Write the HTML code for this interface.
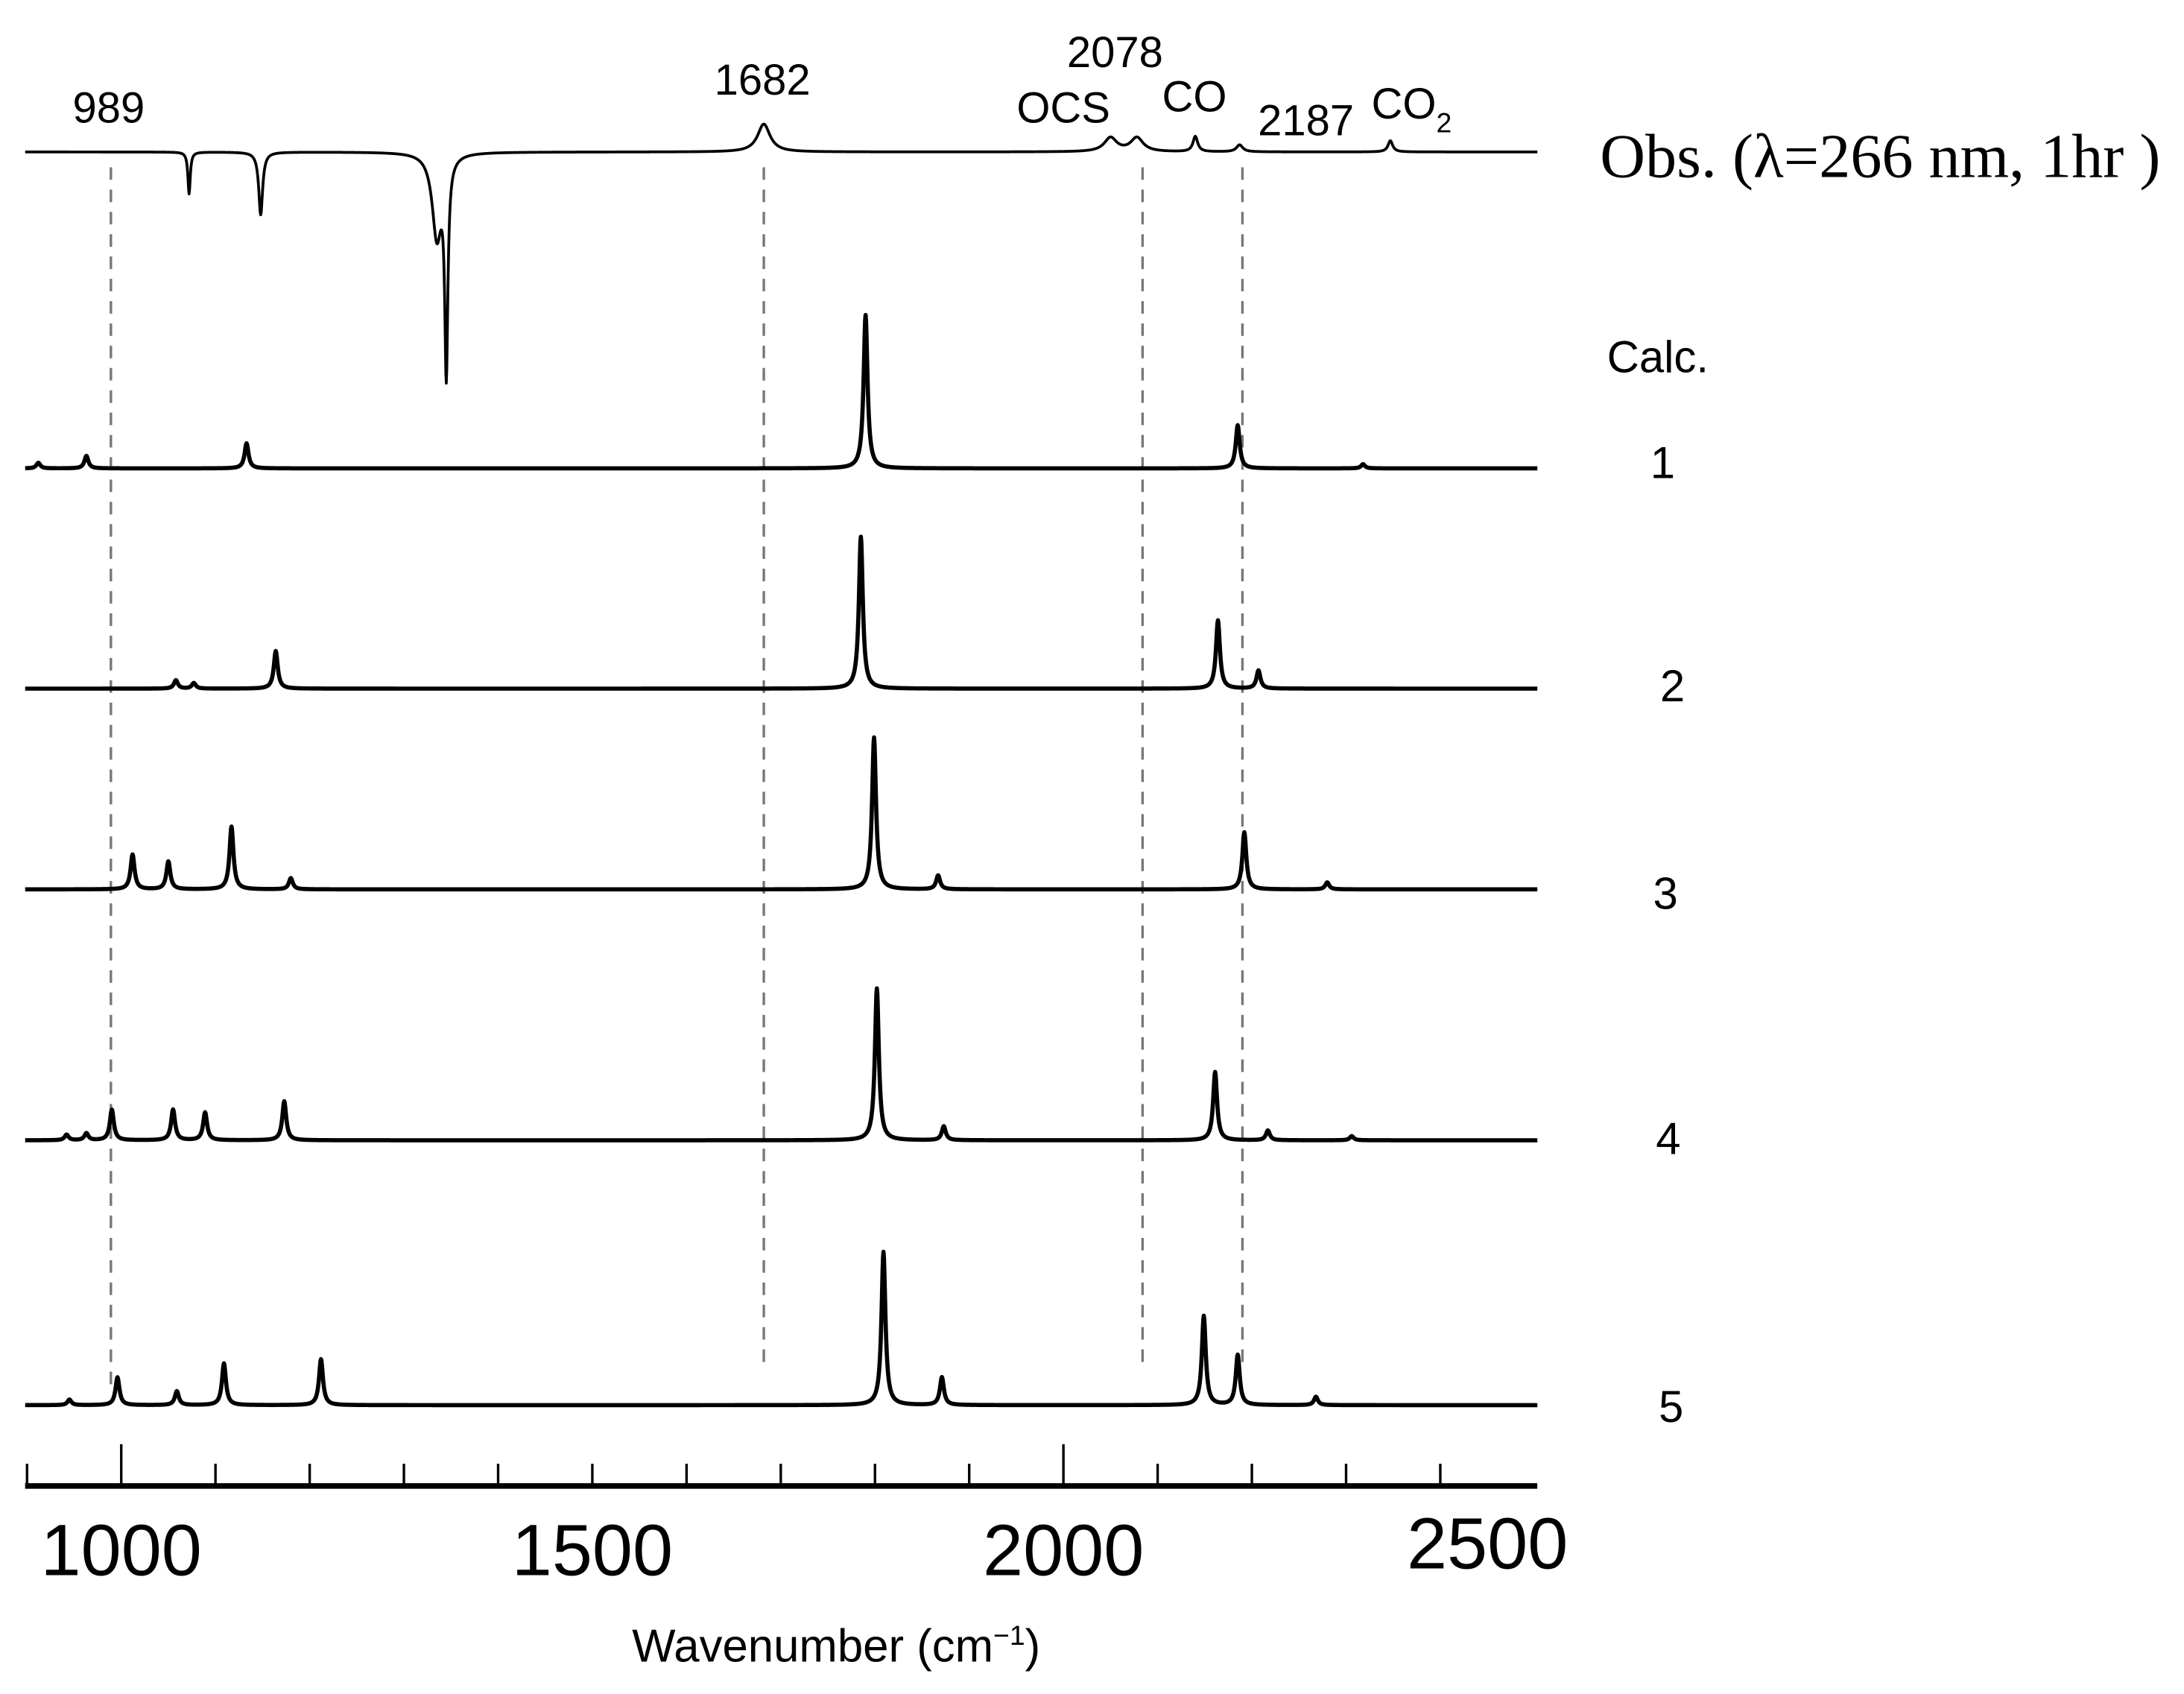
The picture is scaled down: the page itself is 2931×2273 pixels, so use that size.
<!DOCTYPE html>
<html><head><meta charset="utf-8"><style>html,body{margin:0;padding:0;background:#fff}svg{display:block}</style></head>
<body>
<svg width="2931" height="2273" viewBox="0 0 1567 1215.2" preserveAspectRatio="none" xmlns="http://www.w3.org/2000/svg">
<g id="dashes"></g>
<g id="traces"></g>
<g id="axis"></g>
<g font-family="Liberation Sans, sans-serif" fill="#000">
<text x="78" y="88" font-size="31" text-anchor="middle">989</text>
<text x="547" y="68" font-size="31" text-anchor="middle">1682</text>
<text x="800" y="48" font-size="31" text-anchor="middle">2078</text>
<text x="763" y="88" font-size="31" text-anchor="middle">OCS</text>
<text x="857" y="80" font-size="31" text-anchor="middle">CO</text>
<text x="937" y="97" font-size="31" text-anchor="middle">2187</text>
<text x="984" y="85" font-size="31">CO<tspan font-size="20" dy="10">2</tspan></text>
<text x="1148" y="127" font-size="45" font-family="Liberation Serif, serif">Obs. (λ=266 nm, 1hr )</text>
<text x="1153" y="267" font-size="32">Calc.</text>
<text x="1193" y="343" font-size="32" text-anchor="middle">1</text>
<text x="1200" y="503" font-size="32" text-anchor="middle">2</text>
<text x="1195" y="652" font-size="32" text-anchor="middle">3</text>
<text x="1197" y="828" font-size="32" text-anchor="middle">4</text>
<text x="1199" y="1020" font-size="32" text-anchor="middle">5</text>
<text x="600" y="1192" font-size="33" text-anchor="middle">Wavenumber (cm<tspan font-size="20" dy="-12">−1</tspan><tspan dy="12">)</tspan></text>
</g>
</svg>
<script>
const calc1Pos=[912,963,1133,1790,2185,2318];
const calc1Amp=[4,9,18,110,31,3];
const calc2Pos=[1058,1077,1164,1785,2164,2207];
const calc2Amp=[6,4,27,109,49,13];
const calc3Pos=[1012,1050,1117,1180,1799,1867,2192,2280];
const calc3Amp=[25,20,45,8,109,10,41,5];
const calc4Pos=[942,963,990,1055,1089,1173,1802,1873,2161,2217,2306];
const calc4Amp=[4,5,22,22,20,28,109,10,49,7,3];
const calc5Pos=[945,996,1059,1109,1212,1809,1871,2149,2185,2268];
const calc5Amp=[4,20,10,30,33,110,20,64,36,6];
const obsPos=[1072,1148,1335,1345,1682,2050,2078,2140,2187,2347];
const obsAmp=[-30,-45,-60,-150,20,10,10,11,5,8];
const obsWid=[1.5,2.5,6,2,8,8,8,3,4,3];
const baselines=[336,494,638,818,1008];
const dashW=[989,1682,2084,2190];
const dashEnd=[1000,980,980,980];
const majorTicks=[1000,1500,2000,2500];
const wMin=898,wMax=2503;
function X(w){return 87+(w-1000)*0.676;}
const NS='http://www.w3.org/2000/svg';
function trace(pos,amp,wid,base,name,sw){
  let d='';
  for(let w=wMin;w<=wMax;w+=0.5){
    let y=0;
    for(let i=0;i<pos.length;i++){const g=wid[i];const t=(w-pos[i])/g;y+=amp[i]/(1+t*t);}
    d+=(d?'L':'M')+X(w).toFixed(2)+','+(base-y).toFixed(2);
  }
  const p=document.createElementNS(NS,'path');
  p.setAttribute('d',d);p.setAttribute('fill','none');p.setAttribute('stroke','#000');
  p.setAttribute('stroke-width',sw);p.setAttribute('stroke-linejoin','round');
  
  
  document.getElementById('traces').appendChild(p);
}
trace(obsPos,obsAmp,obsWid,109,'obs-spectrum',2);
const cp=[calc1Pos,calc2Pos,calc3Pos,calc4Pos,calc5Pos],ca=[calc1Amp,calc2Amp,calc3Amp,calc4Amp,calc5Amp];
for(let k=0;k<5;k++){trace(cp[k],ca[k],cp[k].map(()=>2.5),baselines[k],'calc-'+(k+1)+'-spectrum',3);}
const dg=document.getElementById('dashes');
dashW.forEach((w,i)=>{const l=document.createElementNS(NS,'line');
l.setAttribute('x1',X(w));l.setAttribute('x2',X(w));l.setAttribute('y1',120);l.setAttribute('y2',dashEnd[i]);
l.setAttribute('stroke','#777');l.setAttribute('stroke-width',1.8);l.setAttribute('stroke-dasharray','9,7');


dg.appendChild(l);});
const ag=document.getElementById('axis');
const al=document.createElementNS(NS,'line');
al.setAttribute('x1',18);al.setAttribute('x2',1103);al.setAttribute('y1',1066);al.setAttribute('y2',1066);
al.setAttribute('stroke','#000');al.setAttribute('stroke-width',4);


ag.appendChild(al);
for(let w=900;w<=2400;w+=100){const t=document.createElementNS(NS,'line');
const major=(w===1000||w===2000);
t.setAttribute('x1',X(w));t.setAttribute('x2',X(w));t.setAttribute('y1',1066);t.setAttribute('y2',major?1036:1050);
t.setAttribute('stroke','#000');t.setAttribute('stroke-width',1.8);


ag.appendChild(t);}
majorTicks.forEach(w=>{const tx=document.createElementNS(NS,'text');
tx.setAttribute('x',w===2500?X(2450):X(w));tx.setAttribute('y',w===2500?1125:1130);
tx.setAttribute('font-size',52);tx.setAttribute('font-family','Liberation Sans, sans-serif');
tx.setAttribute('text-anchor','middle');tx.textContent=w;


ag.appendChild(tx);});
</script>
</body></html>
